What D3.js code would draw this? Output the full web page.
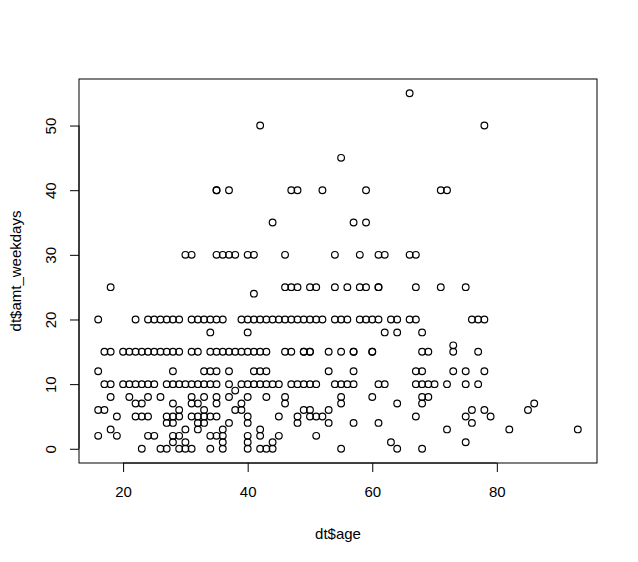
<!DOCTYPE html>
<html>
<head>
<meta charset="utf-8">
<script src="https://cdn.jsdelivr.net/npm/d3@7"></script>
<style>
  html, body { margin: 0; padding: 0; background: #fff; }
  svg text { font-family: "Liberation Sans", Arial, Helvetica, sans-serif; fill: #000; }
</style>
</head>
<body>
<svg id="chart" width="638" height="562"></svg>
<script>
// ---- data ----
const age = [
  66,
  42, 78,
  55,
  35, 35, 37, 47, 48, 52, 59, 71, 72,
  44, 57, 59,
  30, 31, 35, 36, 37, 38, 40, 41, 46, 54, 58, 61, 62, 66, 67,
  18, 46, 47, 48, 50, 51, 54, 56, 58, 59, 61, 61, 67, 71, 75,
  41,
  16, 22, 24, 25, 26, 27, 28, 29, 31, 32, 33, 34, 35, 36, 39, 40, 41, 42, 43, 44, 45, 46, 47, 48, 49, 50, 51, 52, 54, 55, 56, 58, 59, 60, 61, 63, 64, 66, 67, 76, 77, 78,
  34, 40, 62, 64, 68,
  73,
  17, 18, 20, 21, 22, 23, 24, 25, 26, 27, 28, 29, 31, 32, 34, 35, 36, 37, 38, 39, 40, 41, 42, 43, 46, 47, 49, 49, 50, 50, 53, 55, 57, 57, 60, 60, 68, 69, 73, 77,
  16, 28, 33, 34, 35, 37, 41, 42, 43, 53, 57, 67, 68, 73, 75, 78,
  17, 18, 20, 21, 22, 23, 24, 25, 27, 28, 29, 30, 31, 32, 33, 34, 35, 37, 39, 40, 41, 42, 43, 44, 45, 47, 48, 49, 50, 51, 54, 55, 56, 57, 61, 62, 67, 68, 69, 70, 72, 75, 77,
  38,
  18, 21, 24, 26, 31, 33, 35, 37, 40, 43, 46, 55, 60, 68, 69,
  22, 23, 28, 31, 32, 35, 39, 46, 55, 64, 68, 86,
  16, 17, 29, 33, 38, 39, 49, 50, 53, 76, 78, 85,
  19, 22, 23, 24, 27, 28, 29, 31, 32, 33, 34, 35, 40, 45, 48, 50, 51, 52, 67, 75, 79,
  27, 28, 32, 33, 37, 40, 48, 53, 57, 61, 76,
  18, 30, 32, 36, 42, 72, 82, 93,
  16, 19, 24, 25, 28, 29, 34, 35, 36, 40, 42, 45, 51,
  28, 30, 36, 40, 44, 63, 75,
  23, 26, 27, 29, 30, 31, 34, 36, 40, 42, 43, 44, 55, 64, 68
];
const amtWeekdays = [
  55,
  50, 50,
  45,
  40, 40, 40, 40, 40, 40, 40, 40, 40,
  35, 35, 35,
  30, 30, 30, 30, 30, 30, 30, 30, 30, 30, 30, 30, 30, 30, 30,
  25, 25, 25, 25, 25, 25, 25, 25, 25, 25, 25, 25, 25, 25, 25,
  24,
  20, 20, 20, 20, 20, 20, 20, 20, 20, 20, 20, 20, 20, 20, 20, 20, 20, 20, 20, 20, 20, 20, 20, 20, 20, 20, 20, 20, 20, 20, 20, 20, 20, 20, 20, 20, 20, 20, 20, 20, 20, 20,
  18, 18, 18, 18, 18,
  16,
  15, 15, 15, 15, 15, 15, 15, 15, 15, 15, 15, 15, 15, 15, 15, 15, 15, 15, 15, 15, 15, 15, 15, 15, 15, 15, 15, 15, 15, 15, 15, 15, 15, 15, 15, 15, 15, 15, 15, 15,
  12, 12, 12, 12, 12, 12, 12, 12, 12, 12, 12, 12, 12, 12, 12, 12,
  10, 10, 10, 10, 10, 10, 10, 10, 10, 10, 10, 10, 10, 10, 10, 10, 10, 10, 10, 10, 10, 10, 10, 10, 10, 10, 10, 10, 10, 10, 10, 10, 10, 10, 10, 10, 10, 10, 10, 10, 10, 10, 10,
  9,
  8, 8, 8, 8, 8, 8, 8, 8, 8, 8, 8, 8, 8, 8, 8,
  7, 7, 7, 7, 7, 7, 7, 7, 7, 7, 7, 7,
  6, 6, 6, 6, 6, 6, 6, 6, 6, 6, 6, 6,
  5, 5, 5, 5, 5, 5, 5, 5, 5, 5, 5, 5, 5, 5, 5, 5, 5, 5, 5, 5, 5,
  4, 4, 4, 4, 4, 4, 4, 4, 4, 4, 4,
  3, 3, 3, 3, 3, 3, 3, 3,
  2, 2, 2, 2, 2, 2, 2, 2, 2, 2, 2, 2, 2,
  1, 1, 1, 1, 1, 1, 1,
  0, 0, 0, 0, 0, 0, 0, 0, 0, 0, 0, 0, 0, 0, 0
];
const xTicks = [20, 40, 60, 80];
const yTicks = [0, 10, 20, 30, 40, 50];
const xTitle = "dt$age";
const yTitle = "dt$amt_weekdays";

// ---- layout ----
const box = { left: 79, right: 597, top: 79, bottom: 463 };
const n = Math.min(age.length, amtWeekdays.length);
const pts = d3.range(n).map(i => ({ x: age[i], y: amtWeekdays[i] }));

// R style 4% domain extension
const xr = d3.extent(pts, d => d.x), yr = d3.extent(pts, d => d.y);
const xPad = (xr[1] - xr[0]) * 0.04, yPad = (yr[1] - yr[0]) * 0.04;
const x = d3.scaleLinear().domain([xr[0] - xPad, xr[1] + xPad]).range([box.left, box.right]);
const y = d3.scaleLinear().domain([yr[0] - yPad, yr[1] + yPad]).range([box.bottom, box.top]);

const svg = d3.select("#chart");
const FS = 15;

// points
svg.append("g").selectAll("circle").data(pts).join("circle")
  .attr("cx", d => x(d.x)).attr("cy", d => y(d.y)).attr("r", 3.35)
  .attr("fill", "none").attr("stroke", "#000").attr("stroke-width", 1.2);

// box
svg.append("rect")
  .attr("x", box.left).attr("y", box.top)
  .attr("width", box.right - box.left).attr("height", box.bottom - box.top)
  .attr("fill", "none").attr("stroke", "#000").attr("stroke-width", 1);

// x axis
const xAxis = d3.axisBottom(x).tickValues(xTicks).tickSize(9).tickSizeOuter(0).tickPadding(14);
const gx = svg.append("g").attr("transform", `translate(0,${box.bottom})`).call(xAxis);
gx.select(".domain").remove();
gx.append("line").attr("x1", x(xTicks[0])).attr("x2", x(xTicks[xTicks.length - 1]))
  .attr("y1", 0).attr("y2", 0).attr("stroke", "#000");
gx.selectAll("text").attr("font-size", FS).attr("font-family", "Liberation Sans, Arial, sans-serif").attr("fill", "#000");
gx.selectAll("line").attr("stroke", "#000");

// y axis
const yAxis = d3.axisLeft(y).tickValues(yTicks).tickSize(9).tickSizeOuter(0).tickPadding(0);
const gy = svg.append("g").attr("transform", `translate(${box.left},0)`).call(yAxis);
gy.select(".domain").remove();
gy.append("line").attr("y1", y(yTicks[0])).attr("y2", y(yTicks[yTicks.length - 1]))
  .attr("x1", 0).attr("x2", 0).attr("stroke", "#000");
gy.selectAll("line").attr("stroke", "#000");
gy.selectAll(".tick text")
  .attr("x", null).attr("dy", null)
  .attr("text-anchor", "middle")
  .attr("transform", "translate(-23,0) rotate(-90)")
  .attr("font-size", FS).attr("font-family", "Liberation Sans, Arial, sans-serif").attr("fill", "#000");

// titles
svg.append("text").attr("x", (box.left + box.right) / 2).attr("y", 539)
  .attr("text-anchor", "middle").attr("font-size", FS).text(xTitle);
svg.append("text")
  .attr("transform", `translate(21,${(box.top + box.bottom) / 2}) rotate(-90)`)
  .attr("text-anchor", "middle").attr("font-size", FS).text(yTitle);
</script>
</body>
</html>
